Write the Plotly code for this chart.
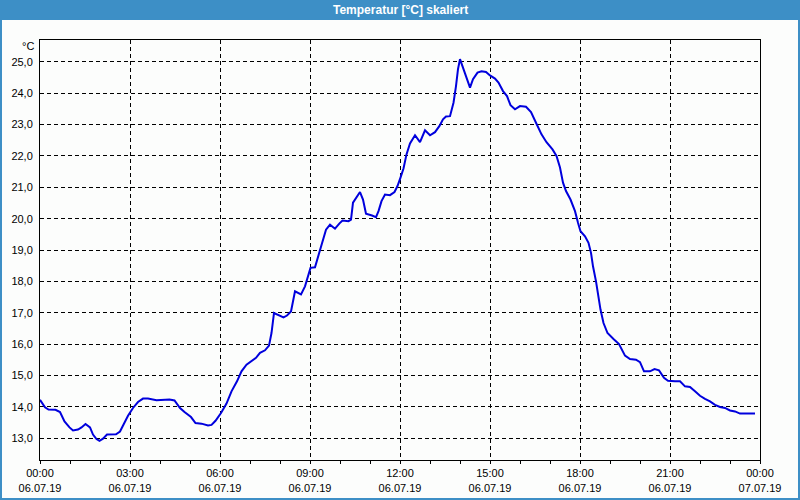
import plotly.graph_objects as go

DAY = "2019-07-06"
times = [
    "00:00", "00:10", "00:17", "00:31", "00:40", "00:49", "00:59", "01:06", "01:16", "01:23",
    "01:31", "01:40", "01:46", "01:53", "01:59", "02:06", "02:14", "02:32", "02:40", "02:48",
    "02:56", "03:06", "03:16", "03:26", "03:36", "03:53", "04:10", "04:19", "04:29", "04:40",
    "04:49", "05:02", "05:11", "05:23", "05:36", "05:43", "05:51", "06:02", "06:13", "06:23",
    "06:34", "06:43", "06:53", "07:04", "07:12", "07:20", "07:30", "07:38", "07:43", "07:48",
    "07:56", "08:07", "08:14", "08:22", "08:30", "08:37", "08:42", "08:50", "08:56", "09:01",
    "09:10", "09:20", "09:26", "09:32", "09:40", "09:50", "09:59", "10:05", "10:17", "10:22",
    "10:26", "10:34", "10:40", "10:46", "10:52", "11:04", "11:12", "11:17", "11:23", "11:30",
    "11:40", "11:49", "11:55", "12:01", "12:07", "12:13", "12:20", "12:30", "12:40", "12:50",
    "13:00", "13:10", "13:19", "13:26", "13:32", "13:40", "13:47", "13:52", "13:56", "14:00",
    "14:05", "14:13", "14:20", "14:26", "14:35", "14:43", "14:52", "15:00", "15:10", "15:17",
    "15:26", "15:34", "15:41", "15:50", "16:00", "16:12", "16:22", "16:32", "16:43", "16:53",
    "17:05", "17:13", "17:20", "17:26", "17:32", "17:41", "17:50", "17:56", "18:01", "18:10",
    "18:17", "18:22", "18:26", "18:32", "18:37", "18:41", "18:47", "18:55", "19:07", "19:18",
    "19:30", "19:40", "19:52", "20:00", "20:08", "20:20", "20:29", "20:38", "20:48", "20:56",
    "21:10", "21:20", "21:30", "21:40", "21:50", "22:00", "22:10", "22:20", "22:30", "22:40",
    "22:50", "23:00", "23:10", "23:20", "23:34", "23:50",
]
temps = [
    14.22, 13.98, 13.91, 13.90, 13.83, 13.53, 13.34, 13.24, 13.27, 13.34,
    13.45, 13.34, 13.11, 12.97, 12.91, 12.98, 13.11, 13.12, 13.21, 13.48,
    13.71, 13.96, 14.15, 14.26, 14.26, 14.21, 14.21, 14.23, 14.20, 13.96,
    13.83, 13.67, 13.48, 13.46, 13.40, 13.42, 13.55, 13.80, 14.10, 14.49,
    14.81, 15.13, 15.34, 15.47, 15.56, 15.72, 15.80, 15.95, 16.35, 16.99,
    16.92, 16.85, 16.91, 17.04, 17.68, 17.63, 17.58, 17.84, 18.16, 18.43,
    18.45, 19.02, 19.39, 19.65, 19.81, 19.68, 19.85, 19.94, 19.92, 19.97,
    20.51, 20.72, 20.85, 20.61, 20.16, 20.10, 20.05, 20.24, 20.56, 20.77,
    20.75, 20.85, 21.04, 21.31, 21.60, 22.05, 22.40, 22.66, 22.44, 22.82,
    22.66, 22.76, 22.96, 23.17, 23.26, 23.27, 23.70, 24.23, 24.77, 25.09,
    24.87, 24.50, 24.18, 24.45, 24.66, 24.70, 24.68, 24.57, 24.47, 24.34,
    24.07, 23.91, 23.62, 23.49, 23.59, 23.57, 23.40, 23.06, 22.69, 22.44,
    22.21, 22.00, 21.63, 21.15, 20.88, 20.61, 20.24, 19.87, 19.60, 19.44,
    19.23, 18.91, 18.48, 18.00, 17.52, 17.10, 16.67, 16.35, 16.16, 16.00,
    15.63, 15.52, 15.50, 15.42, 15.13, 15.13, 15.20, 15.16, 14.92, 14.83,
    14.81, 14.81, 14.65, 14.63, 14.49, 14.35, 14.25, 14.17, 14.06, 13.99,
    13.96, 13.88, 13.85, 13.78, 13.78, 13.78,
]
y_ticks = [13, 14, 15, 16, 17, 18, 19, 20, 21, 22, 23, 24, 25]
title_text = "Temperatur [°C] skaliert"
unit_text = "°C"

FONT = "Liberation Sans"
BLUE = "#3d8fc6"

x = [f"{DAY} {t}" for t in times]

fig = go.Figure()
fig.add_trace(go.Scatter(x=x, y=temps, mode="lines",
                         line=dict(color="#0000dd", width=2), showlegend=False,
                         hoverinfo="skip"))

fig.update_layout(
    width=800, height=500,
    margin=dict(l=40, r=40, t=40, b=40, autoexpand=False),
    paper_bgcolor="#fcfdfc", plot_bgcolor="#fcfdfc",
    separators=",.",
    font=dict(family=FONT, size=11, color="#000000"),
    xaxis=dict(
        type="date", automargin=False,
        range=["2019-07-06 00:00", "2019-07-07 00:00"],
        tick0="2019-07-06 00:00", dtick=3 * 3600000,
        tickformat="%H:%M<br>%d.%m.%y",
        showgrid=True, gridcolor="#000000", gridwidth=1, griddash="4px,3px",
        showline=True, linecolor="#000000", linewidth=1, mirror=True,
        ticks="outside", ticklen=3, tickcolor="#000000",
        minor=dict(dtick=3600000, ticks="outside", ticklen=3, tickcolor="#000000", showgrid=False),
        zeroline=False,
        tickfont=dict(family=FONT, size=11),
    ),
    yaxis=dict(
        automargin=False,
        range=[12.3, 25.7],
        tickvals=y_ticks, tickformat=".1f",
        showgrid=True, gridcolor="#000000", gridwidth=1, griddash="4px,3px",
        showline=True, linecolor="#000000", linewidth=1, mirror=True,
        ticks="", zeroline=False,
        ticklabelstandoff=4,
        tickfont=dict(family=FONT, size=11),
    ),
    shapes=[
        dict(type="rect", xref="paper", yref="paper",
             x0=-40 / 720, x1=760 / 720, y0=440 / 420, y1=460 / 420,
             fillcolor=BLUE, line=dict(width=0), layer="below"),
        dict(type="rect", xref="paper", yref="paper",
             x0=-40 / 720, x1=-38 / 720, y0=-40 / 420, y1=440 / 420,
             fillcolor=BLUE, line=dict(width=0)),
        dict(type="rect", xref="paper", yref="paper",
             x0=758 / 720, x1=760 / 720, y0=-40 / 420, y1=440 / 420,
             fillcolor=BLUE, line=dict(width=0)),
        dict(type="rect", xref="paper", yref="paper",
             x0=-40 / 720, x1=760 / 720, y0=-40 / 420, y1=-38 / 420,
             fillcolor=BLUE, line=dict(width=0)),
    ],
    annotations=[
        dict(text=f"<b>{title_text}</b>", xref="paper", yref="paper",
             x=0.5, y=450 / 420, xanchor="center", yanchor="middle",
             showarrow=False, font=dict(family=FONT, size=12, color="#ffffff")),
        dict(text=unit_text, xref="paper", yref="paper",
             x=-4 / 720, y=(460 - 46) / 420, xanchor="right", yanchor="middle",
             showarrow=False, font=dict(family=FONT, size=11, color="#000000")),
    ],
)

fig.write_html(
    "out.html",
    config={"displayModeBar": False, "staticPlot": True},
    post_script=(
        "document.documentElement.style.margin='0';"
        "document.documentElement.style.padding='0';"
        "document.body.style.margin='0';"
        "document.body.style.padding='0';"
    ),
)
